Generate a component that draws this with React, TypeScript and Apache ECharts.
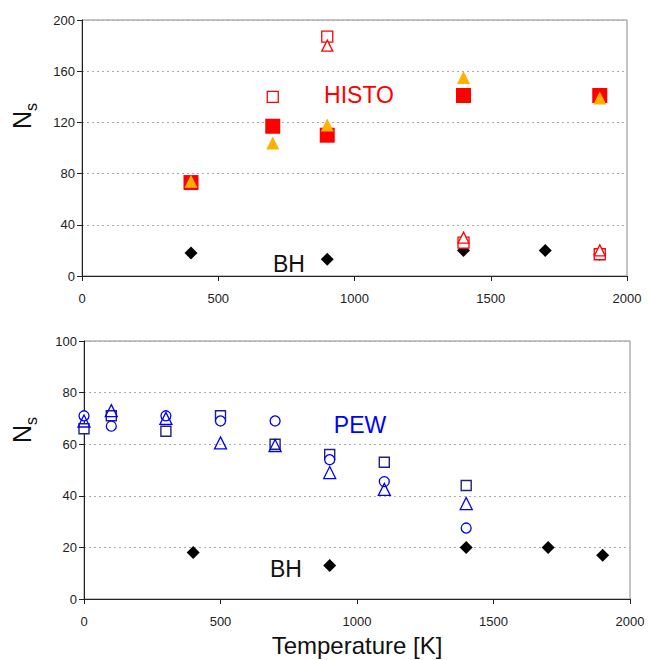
import React, { useEffect, useRef } from "react";
import * as echarts from "echarts";

// X-axis ticks
const xTicks = [0, 500, 1000, 1500, 2000];

// Top panel (HISTO)
const histoOpenSqT = [700, 900, 1400, 1900];
const histoOpenSqV = [140, 187, 26, 17];
const histoOpenTriT = [900, 1400, 1900];
const histoOpenTriV = [180, 30, 20];
const histoFilledSqT = [400, 700, 900, 1400, 1900];
const histoFilledSqV = [73, 117, 110, 141, 141];
const histoFilledTriT = [400, 700, 900, 1400, 1900];
const histoFilledTriV = [74, 104, 118, 155, 139];

// BH (both panels)
const bhT = [400, 900, 1400, 1700, 1900];
const bhV = [18, 13, 20, 20, 17];

// Bottom panel (PEW)
const pewT = [0, 100, 300, 500, 700, 900, 1100, 1400];
const pewSqV = [66, 71, 65, 71, 60, 56, 53, 44];
const pewCircV = [71, 67, 71, 69, 69, 54, 45.5, 27.5];
const pewTriV = [69, 73, 70, 60.5, 59.5, 49, 42.5, 37];

const zip = (xs: number[], ys: number[]) => xs.map((x, i) => [x, ys[i]]);

const RED = "#ff0000";
const ORANGE = "#ffb000";
const BLUE = "#0000ff";
const NAVY = "#22227a";
const FONT = "Liberation Sans, Arial, sans-serif";

export default function App() {
  const ref = useRef<HTMLDivElement>(null);
  useEffect(() => {
    if (!ref.current) return;
    const chart = echarts.init(ref.current, null, { renderer: "svg" });
    const xAxisBase = (gridIndex: number) => ({
      type: "value",
      gridIndex,
      min: xTicks[0],
      max: xTicks[xTicks.length - 1],
      interval: 500,
      axisLine: { show: true, lineStyle: { color: "#222", width: 1 } },
      axisTick: { show: true, length: 5, lineStyle: { color: "#222" } },
      splitLine: { show: false },
      axisLabel: { color: "#222", fontSize: 13, fontFamily: FONT, margin: 16, formatter: (v: number) => String(v) },
    });
    const yAxisBase = (gridIndex: number, max: number, interval: number) => ({
      type: "value",
      gridIndex,
      min: 0,
      max,
      interval,
      axisLine: { show: true, lineStyle: { color: "#222", width: 1 } },
      axisTick: { show: true, length: 5, lineStyle: { color: "#222" } },
      splitLine: { show: true, lineStyle: { color: "#aaa", type: [2, 3], width: 1 } },
      axisLabel: { color: "#222", fontSize: 13, fontFamily: FONT, margin: 7 },
    });
    const hollow = (color: string, w = 1.3) => ({ color: "#fff", borderColor: color, borderWidth: w, opacity: 1 });
    const sc = (name: string, idx: number, data: number[][], symbol: string, size: number, itemStyle: any, z = 2) => ({
      type: "scatter",
      name,
      xAxisIndex: idx,
      yAxisIndex: idx,
      data,
      symbol,
      symbolSize: size,
      itemStyle: { opacity: 1, ...itemStyle },
      clip: false,
      z,
    });
    const nsLabel = (x: number, y: number) => ({
      type: "text",
      x,
      y,
      rotation: Math.PI / 2,
      style: {
        text: "{a|N}{b|s}",
        align: "center",
        verticalAlign: "middle",
        rich: {
          a: { fontSize: 25, fontFamily: FONT, fill: "#111", verticalAlign: "bottom" },
          b: { fontSize: 16, fontFamily: FONT, fill: "#111", verticalAlign: "bottom", padding: [0, 0, -5, 0] },
        },
      },
    });
    const txt = (text: string, x: number, y: number, color: string, size: number) => ({
      type: "text",
      x,
      y,
      style: { text, fill: color, fontSize: size, fontFamily: FONT, align: "center", verticalAlign: "middle" },
    });
    chart.setOption({
      animation: false,
      backgroundColor: "#fff",
      grid: [
        { left: 82, top: 20, width: 545, height: 256, show: true, borderColor: "#888", borderWidth: 1 },
        { left: 84, top: 341, width: 546, height: 258, show: true, borderColor: "#888", borderWidth: 1 },
      ],
      xAxis: [
        xAxisBase(0),
        {
          ...xAxisBase(1),
          name: "Temperature [K]",
          nameLocation: "middle",
          nameGap: 34,
          nameTextStyle: { fontSize: 24, fontFamily: FONT, color: "#111" },
        },
      ],
      yAxis: [yAxisBase(0, 200, 40), yAxisBase(1, 100, 20)],
      series: [
        sc("BH", 0, zip(bhT, bhV), "diamond", 13, { color: "#000" }, 2),
        sc("HISTO open sq", 0, zip(histoOpenSqT, histoOpenSqV), "rect", 11, hollow(RED), 3),
        sc("HISTO open tri", 0, zip(histoOpenTriT, histoOpenTriV), "triangle", 11, hollow(RED), 3),
        sc("HISTO filled sq", 0, zip(histoFilledSqT, histoFilledSqV), "rect", 15, { color: RED }, 4),
        sc("HISTO filled tri", 0, zip(histoFilledTriT, histoFilledTriV), "triangle", 13, { color: ORANGE }, 5),
        sc("BH2", 1, zip(bhT, bhV), "diamond", 13, { color: "#000" }, 2),
        sc("PEW sq", 1, zip(pewT, pewSqV), "rect", 10, hollow(NAVY, 1.4), 3),
        sc("PEW circ", 1, zip(pewT, pewCircV), "circle", 10, hollow(BLUE, 1.3), 4),
        sc("PEW tri", 1, zip(pewT, pewTriV), "triangle", 12, { color: "transparent", borderColor: BLUE, borderWidth: 1.3 }, 5),
      ],
      graphic: [
        nsLabel(22, 116),
        nsLabel(22, 430),
        txt("HISTO", 359, 95, RED, 23),
        txt("BH", 289, 264, "#111", 23),
        txt("PEW", 360, 425, BLUE, 23),
        txt("BH", 286, 569, "#111", 23),
      ],
    });
    return () => chart.dispose();
  }, []);
  return <div ref={ref} style={{ position: "absolute", left: 0, top: 0, width: 649, height: 660 }} />;
}
